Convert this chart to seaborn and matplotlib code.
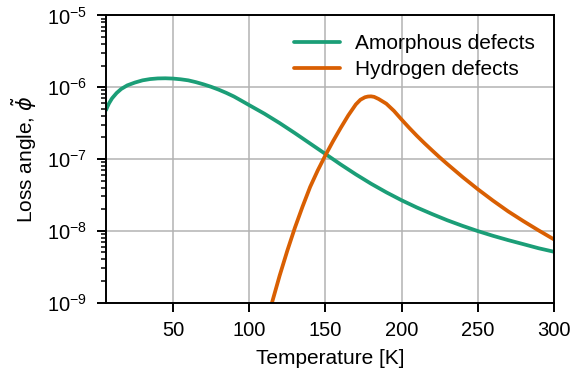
import matplotlib
matplotlib.use("Agg")
import matplotlib.pyplot as plt
import pandas as pd
import seaborn as sns

# Loss angle of amorphous-type and hydrogen-type defects versus temperature
temp_amorphous = [6, 7, 8, 10, 13, 16, 20, 25, 30, 35, 40, 45, 50, 55, 60, 65, 70, 75,
                  80, 85, 90, 95, 100, 110, 120, 130, 140, 150, 160, 170, 180, 190,
                  200, 210, 220, 230, 240, 250, 260, 270, 280, 290, 300]
loss_amorphous = [4.79e-7, 5.37e-7, 5.96e-7, 7.0e-7, 8.3e-7, 9.44e-7, 1.06e-6, 1.16e-6,
                  1.245e-6, 1.297e-6, 1.324e-6, 1.33e-6, 1.318e-6, 1.288e-6, 1.245e-6,
                  1.175e-6, 1.096e-6, 1.012e-6, 9.23e-7, 8.32e-7, 7.41e-7, 6.46e-7,
                  5.62e-7, 4.27e-7, 3.16e-7, 2.29e-7, 1.64e-7, 1.175e-7, 8.4e-8,
                  6.1e-8, 4.52e-8, 3.43e-8, 2.66e-8, 2.11e-8, 1.71e-8, 1.40e-8,
                  1.17e-8, 9.9e-9, 8.5e-9, 7.4e-9, 6.5e-9, 5.7e-9, 5.1e-9]

temp_hydrogen = [110, 115, 120, 125, 130, 135, 140, 145, 150, 155, 160, 165, 170, 173,
                 176, 178, 180, 182, 185, 190, 195, 200, 205, 210, 215, 220, 225, 230,
                 240, 250, 260, 270, 280, 290, 300]
loss_hydrogen = [3.98e-10, 1.0e-9, 2.37e-9, 5.25e-9, 1.10e-8, 2.16e-8, 4.07e-8, 6.92e-8,
                 1.12e-7, 1.76e-7, 2.69e-7, 4.03e-7, 5.75e-7, 6.68e-7, 7.24e-7, 7.41e-7,
                 7.45e-7, 7.33e-7, 6.84e-7, 5.89e-7, 4.68e-7, 3.55e-7, 2.72e-7, 2.11e-7,
                 1.66e-7, 1.32e-7, 1.054e-7, 8.51e-8, 5.62e-8, 3.80e-8, 2.63e-8,
                 1.86e-8, 1.36e-8, 1.01e-8, 7.59e-9]

series_names = ["Amorphous defects", "Hydrogen defects"]
series_colors = ["#1b9e77", "#d95f02"]

x_ticks = [50, 100, 150, 200, 250, 300]

df = pd.concat([
    pd.DataFrame({"T": temp_amorphous, "loss": loss_amorphous, "kind": series_names[0]}),
    pd.DataFrame({"T": temp_hydrogen, "loss": loss_hydrogen, "kind": series_names[1]}),
], ignore_index=True)

sns.set_style("white")
plt.rcParams["font.family"] = ["Liberation Sans", "DejaVu Sans"]
plt.rcParams["mathtext.fontset"] = "custom"
plt.rcParams["mathtext.rm"] = "Liberation Sans"
plt.rcParams["mathtext.it"] = "Liberation Sans:italic"
plt.rcParams["mathtext.bf"] = "Liberation Sans:bold"
plt.rcParams["axes.unicode_minus"] = False
plt.rcParams["text.color"] = "black"
plt.rcParams["axes.labelcolor"] = "black"
plt.rcParams["xtick.color"] = "black"
plt.rcParams["ytick.color"] = "black"

fig = plt.figure(figsize=(5.71, 3.81), dpi=100)
ax = fig.add_axes([0.1856, 0.206, 0.970 - 0.1856, 0.9596 - 0.206])

sns.lineplot(data=df, x="T", y="loss", hue="kind", hue_order=series_names,
             palette=series_colors, linewidth=2.7, ax=ax, legend=True)

ax.set_yscale("log")
ax.set_xlim(6, 300)
ax.set_ylim(1e-9, 1e-5)
ax.set_xticks(x_ticks)
ax.set_xticklabels([str(t) for t in x_ticks])
ax.xaxis.set_minor_locator(matplotlib.ticker.NullLocator())

ax.grid(True, which="major", color="#b3b3b3", linewidth=1.1)
ax.set_axisbelow(True)
for s in ax.spines.values():
    s.set_color("black")
    s.set_linewidth(1.4)

ax.tick_params(axis="both", which="major", direction="out", length=6.5, width=1.4,
               color="black", labelcolor="black", labelsize=14.5, pad=7,
               left=True, bottom=True)
ax.tick_params(axis="y", which="minor", direction="out", length=3.8, width=1.1,
               color="black", left=True)

ax.set_xlabel("Temperature [K]", fontsize=15, labelpad=6, color="black")
ax.set_ylabel(r"Loss angle, $\tilde{\phi}$", fontsize=15, labelpad=6, color="black",
              math_fontfamily="dejavusans")

leg = ax.legend(loc="upper right", frameon=False, fontsize=15, handlelength=2.2,
                handletextpad=0.75, labelspacing=0.35)
for line in leg.get_lines():
    line.set_linewidth(2.7)
for t in leg.get_texts():
    t.set_color("black")

fig.savefig("out.png", dpi=100)
